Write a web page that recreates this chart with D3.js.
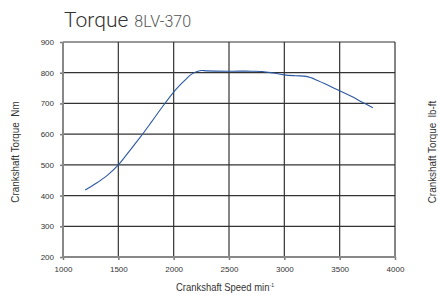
<!DOCTYPE html>
<html>
<head>
<meta charset="utf-8">
<script src="https://cdn.jsdelivr.net/npm/d3@7"></script>
<style>
  body { margin: 0; background: #fff; }
  svg text { font-family: "Liberation Sans", Arial, sans-serif; }
</style>
</head>
<body>
<div id="chart"></div>
<script>
  // torque curve
  const rpm = [1200, 1300, 1400, 1500, 1600, 1700, 1800, 1900, 2000, 2050, 2100, 2150, 2200, 2250, 2300, 2500, 2700, 2800, 2900, 3000, 3100, 3200, 3300, 3400, 3500, 3600, 3700, 3800];
  const torqueNm = [418, 440, 466, 500, 545, 591, 640, 690, 737, 757, 775, 792, 802, 807, 806, 805, 805, 804, 799, 793, 790, 788, 775, 758, 741, 724, 705, 686];
  const xTicks = [1000, 1500, 2000, 2500, 3000, 3500, 4000];
  const yTicks = [200, 300, 400, 500, 600, 700, 800, 900];

  const W = 438, H = 295;
  const margin = { top: 42, right: 43, bottom: 38, left: 63 };
  const width = W - margin.left - margin.right;
  const height = H - margin.top - margin.bottom;

  const svg = d3.select("#chart").append("svg")
    .attr("width", W).attr("height", H);
  const g = svg.append("g")
    .attr("transform", `translate(${margin.left},${margin.top})`);

  const x = d3.scaleLinear().domain([1000, 4000]).range([0, width]);
  const y = d3.scaleLinear().domain([200, 900]).range([height, 0]);

  // grid
  g.append("g").selectAll("line").data(yTicks.slice(1)).enter().append("line")
    .attr("x1", 0).attr("x2", width)
    .attr("y1", (d) => y(d)).attr("y2", (d) => y(d))
    .attr("stroke", "#333").attr("stroke-width", 1.2);
  g.append("g").selectAll("line").data(xTicks.slice(1)).enter().append("line")
    .attr("y1", 0).attr("y2", height)
    .attr("x1", (d) => x(d)).attr("x2", (d) => x(d))
    .attr("stroke", "#333").attr("stroke-width", 1.2);

  // axes
  const yAxis = g.append("g").call(d3.axisLeft(y).tickValues(yTicks).tickSize(3).tickPadding(6));
  yAxis.select(".domain").remove();
  yAxis.selectAll(".tick line").attr("stroke", "#777").attr("stroke-width", 1.5);
  yAxis.selectAll("text").attr("font-size", 8).attr("fill", "#333")
    .attr("font-family", "Liberation Sans, Arial, sans-serif");

  const xAxis = g.append("g").attr("transform", `translate(0,${height})`)
    .call(d3.axisBottom(x).tickValues(xTicks).tickFormat(d3.format("d")).tickSize(3).tickPadding(6));
  xAxis.select(".domain").remove();
  xAxis.selectAll(".tick line").attr("stroke", "#777").attr("stroke-width", 1.5);
  xAxis.selectAll("text").attr("font-size", 8).attr("fill", "#333")
    .attr("font-family", "Liberation Sans, Arial, sans-serif");

  g.append("line").attr("x1", 0).attr("x2", 0).attr("y1", 0).attr("y2", height + 1)
    .attr("stroke", "#888").attr("stroke-width", 2);
  g.append("line").attr("x1", -1).attr("x2", width + 1).attr("y1", height).attr("y2", height)
    .attr("stroke", "#888").attr("stroke-width", 2);

  // curve
  const pts = rpm.map((r, i) => [r, torqueNm[i]]);
  g.append("path").datum(pts)
    .attr("fill", "none").attr("stroke", "#2b58a3").attr("stroke-width", 1.1)
    .attr("d", d3.line().x((d) => x(d[0])).y((d) => y(d[1])).curve(d3.curveCatmullRom.alpha(0.5)));

  // title
  const title = svg.append("text").attr("x", 64).attr("y", 27).attr("fill", "#333")
    .style("font-family", "Roboto, 'Liberation Sans', sans-serif").attr("font-weight", 300);
  title.append("tspan").attr("font-size", 21).text("Torque");
  title.append("tspan").attr("font-size", 16).attr("fill", "#555").attr("dx", 6).text("8LV-370");

  // axis titles (condensed look)
  const sideTitle = (cx, text) => svg.append("text")
    .attr("transform", `translate(${cx},152) rotate(-90) scale(0.86,1)`)
    .attr("text-anchor", "middle").attr("dy", "0.35em")
    .attr("font-size", 11.5).attr("fill", "#333").text(text);
  sideTitle(15, "Crankshaft Torque\u00a0\u00a0Nm");
  sideTitle(432, "Crankshaft Torque\u00a0\u00a0lb-ft");

  const xt = svg.append("text")
    .attr("transform", `translate(225,291) scale(0.86,1)`)
    .attr("text-anchor", "middle").attr("font-size", 11).attr("fill", "#333");
  xt.append("tspan").text("Crankshaft Speed min");
  xt.append("tspan").attr("font-size", 6).attr("dy", -4).text("-1");
</script>
</body>
</html>
